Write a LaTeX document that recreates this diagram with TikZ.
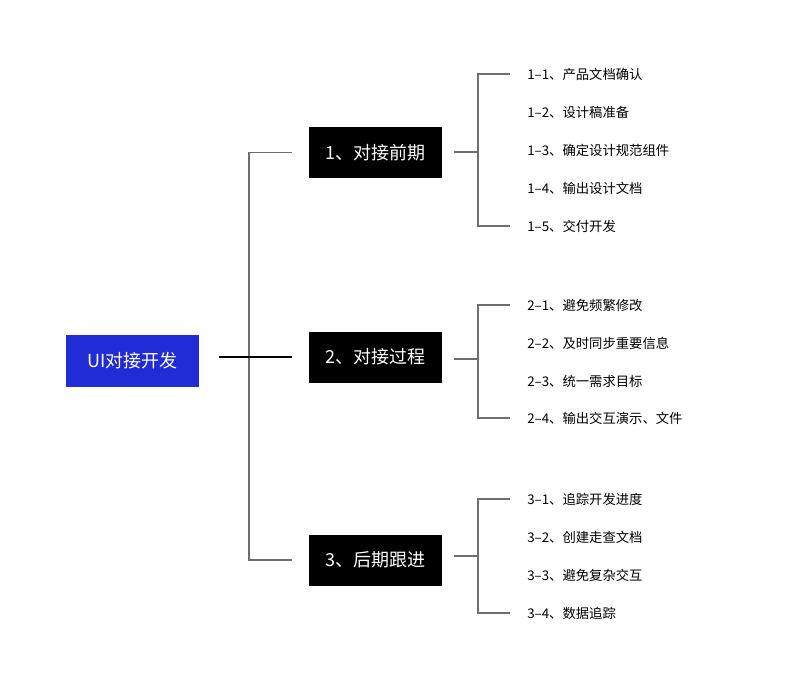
\documentclass[tikz,border=0pt]{standalone}
\usepackage{fontspec}
\setmainfont{Noto Sans CJK SC}
\definecolor{rootblue}{RGB}{33, 44, 214}
\definecolor{linegray}{RGB}{110, 110, 110}
\usetikzlibrary{calc}

\begin{document}
\begin{tikzpicture}[x=0.75pt, y=-0.75pt,
  phase/.style={fill=black, text=white, minimum width=99.75pt, minimum height=38.25pt, inner sep=0pt, font=\fontsize{13.5}{16}\selectfont},
  item/.style={anchor=west, inner sep=0pt, font=\fontsize{10}{12}\selectfont},
  link/.style={draw=linegray, line width=0.8pt}]
  \useasboundingbox (0, 0) rectangle (800, 686);

  % Root
  \node[fill=rootblue, text=white, minimum width=99.75pt, minimum height=39pt, inner sep=0pt, font=\fontsize{13.5}{16}\selectfont] (root) at (132.5, 361) {UI对接开发};

  % Phases
  \node[phase] (p1) at (375.5, 152.5) {1、对接前期};
  \node[phase] (p2) at (375.5, 357) {2、对接过程};
  \node[phase] (p3) at (375.5, 560) {3、后期跟进};

  % Trunk
  \coordinate (trunk) at (249, 357);
  \draw[link] ([xshift=-12.75pt]p1.west) -| (trunk) |- ([xshift=-12.75pt]p3.west);
  \draw[line width=0.8pt] ([xshift=15pt]root.east |- trunk) -- ([xshift=-12.75pt]p2.west |- trunk);

  % Spines
  \coordinate (s1) at (478, 152);
  \coordinate (s2) at (478, 359);
  \coordinate (s3) at (478, 556);

  % 1 items
  \node[item] (i11) at (527, 74) {1–1、产品文档确认};
  \node[item] (i12) at (527, 112) {1–2、设计稿准备};
  \node[item] (i13) at (527, 150) {1–3、确定设计规范组件};
  \node[item] (i14) at (527, 188) {1–4、输出设计文档};
  \node[item] (i15) at (527, 226) {1–5、交付开发};
  \draw[link] ([xshift=9pt]p1.east |- s1) -- (s1);
  \draw[link] ([xshift=-12.75pt]i11.west) -| (s1) |- ([xshift=-12.75pt]i15.west);

  % 2 items
  \node[item] (i21) at (527, 305) {2–1、避免频繁修改};
  \node[item] (i22) at (527, 343) {2–2、及时同步重要信息};
  \node[item] (i23) at (527, 381) {2–3、统一需求目标};
  \node[item] (i24) at (527, 418) {2–4、输出交互演示、文件};
  \draw[link] ([xshift=9pt]p2.east |- s2) -- (s2);
  \draw[link] ([xshift=-12.75pt]i21.west) -| (s2) |- ([xshift=-12.75pt]i24.west);

  % 3 items
  \node[item] (i31) at (527, 499) {3–1、追踪开发进度};
  \node[item] (i32) at (527, 537) {3–2、创建走查文档};
  \node[item] (i33) at (527, 575) {3–3、避免复杂交互};
  \node[item] (i34) at (527, 613) {3–4、数据追踪};
  \draw[link] ([xshift=9pt]p3.east |- s3) -- (s3);
  \draw[link] ([xshift=-12.75pt]i31.west) -| (s3) |- ([xshift=-12.75pt]i34.west);
\end{tikzpicture}
\end{document}
